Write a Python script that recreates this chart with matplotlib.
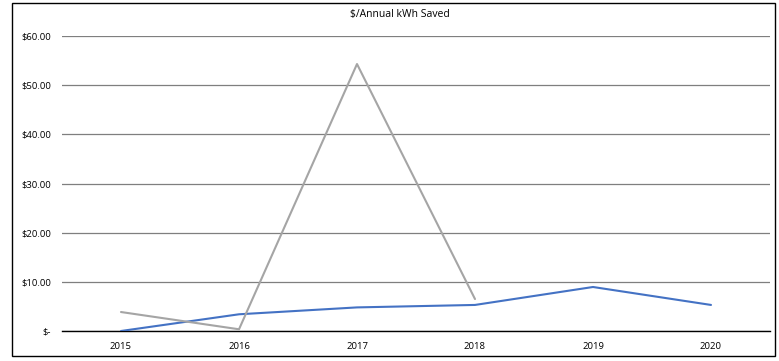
import matplotlib

matplotlib.use("Agg")
import matplotlib.pyplot as plt
from matplotlib.patches import Rectangle

years = ["2015", "2016", "2017", "2018", "2019", "2020"]
blue_values = [0.0, 3.4, 4.8, 5.3, 8.95, 5.3]
grey_years = ["2015", "2016", "2017", "2018"]
grey_values = [3.86, 0.35, 54.3, 6.5]
y_ticks = [0, 10, 20, 30, 40, 50, 60]
y_labels = ["$-", "$10.00", "$20.00", "$30.00", "$40.00", "$50.00", "$60.00"]

plt.rcParams["font.family"] = ["Open Sans", "DejaVu Sans"]

W, H = 779, 361
fig = plt.figure(figsize=(W / 100, H / 100), dpi=100)
ax = fig.add_axes([62 / W, 1 - 331 / H, (770 - 62) / W, (331 - 36) / H])

x = range(len(years))
ax.plot(x, blue_values, color="#4472c4", lw=1.5, solid_capstyle="round", zorder=3)
ax.plot(range(len(grey_years)), grey_values, color="#a5a5a5", lw=1.5,
        solid_capstyle="round", zorder=3)

ax.set_xlim(-0.5, len(years) - 0.5)
ax.set_ylim(0, 60)
ax.set_xticks(list(x))
ax.set_xticklabels(years, fontsize=6.8)
ax.set_yticks(y_ticks)
ax.set_yticklabels(y_labels, fontsize=6.8)
ax.tick_params(length=0, pad=8)
ax.yaxis.grid(True, color="#7f7f7f", lw=0.9)
for s in ["top", "right", "left"]:
    ax.spines[s].set_visible(False)
ax.spines["bottom"].set_color("black")
ax.spines["bottom"].set_linewidth(1.0)
ax.spines["bottom"].set_zorder(2)

fig.text(400 / W, 1 - 15 / H, "$/Annual kWh Saved", ha="center", va="center",
         fontsize=7.5)
fig.patches.append(Rectangle((12 / W, 1 - 356 / H), (775 - 12) / W, (356 - 3) / H,
                             transform=fig.transFigure, fill=False,
                             edgecolor="black", lw=1.0))

fig.savefig("out.png", dpi=100)
